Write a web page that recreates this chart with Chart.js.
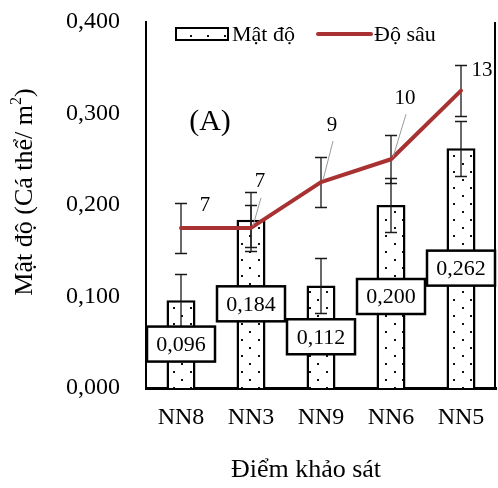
<!DOCTYPE html>
<html>
<head>
<meta charset="utf-8">
<script src="https://cdn.jsdelivr.net/npm/chart.js@4.4.1/dist/chart.umd.min.js"></script>
<style>
  html, body { margin: 0; padding: 0; background: #fff; }
  #wrap { width: 498px; height: 488px; }
</style>
</head>
<body>
<div id="wrap"><canvas id="chart" width="498" height="488"></canvas></div>
<script>
// values
const sites = ["NN8", "NN3", "NN9", "NN6", "NN5"];
const density = [0.096, 0.184, 0.112, 0.200, 0.262];
const densityErr = [0.029, 0.030, 0.030, 0.030, 0.030];
const depth = [7, 7, 9, 10, 13];
const depthErr = [1.1, 1.0, 1.1, 1.05, 1.1];
const densityTickStep = 0.1;

// where the depth numbers sit relative to their point (px), and whether a leader line is drawn
const depthLabelOffsets = [[24, -22, false], [9, -46, true], [11, -57, true], [14, -61, true], [21, -20, false]];

const serif = "'Liberation Serif', 'Times New Roman', serif";
const RED = '#a83232';

const fmt = v => v.toFixed(3).replace('.', ',');

const canvas = document.getElementById('chart');
const ctx0 = canvas.getContext('2d');

// white fill with scattered black dots, like the excel pattern
function dotPattern() {
    const c = document.createElement('canvas');
    c.width = 17; c.height = 16;
    const g = c.getContext('2d');
    g.fillStyle = '#fff';
    g.fillRect(0, 0, 17, 16);
    g.fillStyle = '#111';
    g.fillRect(3, 3, 2, 2);
    g.fillRect(11, 11, 2, 2);
    return ctx0.createPattern(c, 'repeat');
}
const dots = dotPattern();

const errorBars = {
    id: 'errorBars',
    afterDatasetDraw(chart, args) {
        if (args.index !== 0) return;
        const {ctx, scales: {x, y, y2}} = chart;
        ctx.save();
        ctx.strokeStyle = '#1a1a1a';
        ctx.lineWidth = 1.3;
        const cap = 6;
        function draw(px, v, e, scale) {
            const t = Math.round(scale.getPixelForValue(v + e)) + 0.5;
            const b = Math.round(scale.getPixelForValue(v - e)) + 0.5;
            ctx.beginPath();
            ctx.moveTo(px, t); ctx.lineTo(px, b);
            ctx.moveTo(px - cap, t); ctx.lineTo(px + cap, t);
            ctx.moveTo(px - cap, b); ctx.lineTo(px + cap, b);
            ctx.stroke();
        }
        sites.forEach((s, i) => {
            const px = x.getPixelForValue(i);
            draw(px, density[i], densityErr[i], y);
            draw(px, depth[i], depthErr[i], y2);
        });
        ctx.restore();
    }
};

const labels = {
    id: 'labels',
    afterDatasetsDraw(chart) {
        const {ctx, chartArea, scales: {x, y, y2}} = chart;
        ctx.save();
        // boxed density values in the middle of each bar
        ctx.font = `22px ${serif}`;
        ctx.textAlign = 'center';
        ctx.textBaseline = 'middle';
        density.forEach((v, i) => {
            const cx = x.getPixelForValue(i);
            const cy = y.getPixelForValue(v / 2);
            const w = 68, h = 35;
            ctx.fillStyle = '#fff';
            ctx.fillRect(cx - w / 2, cy - h / 2, w, h);
            ctx.lineWidth = 2.5;
            ctx.strokeStyle = '#000';
            ctx.strokeRect(cx - w / 2, cy - h / 2, w, h);
            ctx.fillStyle = '#000';
            ctx.fillText(fmt(v), cx, cy + 1);
        });

        // depth numbers with thin leaders
        ctx.font = `21px ${serif}`;
        depth.forEach((d, i) => {
            const px = x.getPixelForValue(i);
            const py = y2.getPixelForValue(d);
            const [dx, dy, leader] = depthLabelOffsets[i];
            if (leader) {
                ctx.strokeStyle = '#9a9a9a';
                ctx.lineWidth = 1;
                ctx.beginPath();
                ctx.moveTo(px + dx + 1, py + dy + 16);
                ctx.lineTo(px + 2, py - 2);
                ctx.stroke();
            }
            ctx.fillStyle = '#000';
            ctx.fillText(String(d), px + dx, py + dy);
        });

        // right frame line
        ctx.strokeStyle = '#000';
        ctx.lineWidth = 2;
        ctx.beginPath();
        ctx.moveTo(chartArea.right - 1, chartArea.top);
        ctx.lineTo(chartArea.right - 1, chartArea.bottom);
        ctx.stroke();

        // panel tag
        ctx.font = `30px ${serif}`;
        ctx.fillText('(A)', 210, 122);

        // legend
        ctx.fillStyle = dots;
        ctx.fillRect(176, 28, 52, 12);
        ctx.lineWidth = 2;
        ctx.strokeRect(176, 28, 52, 12);
        ctx.fillStyle = '#000';
        ctx.font = `22px ${serif}`;
        ctx.textAlign = 'left';
        ctx.fillText('Mật độ', 232, 35);
        ctx.strokeStyle = RED;
        ctx.lineWidth = 4;
        ctx.lineCap = 'round';
        ctx.beginPath();
        ctx.moveTo(318, 34);
        ctx.lineTo(371, 34);
        ctx.stroke();
        ctx.fillText('Độ sâu', 374, 35);

        // axis titles
        ctx.textAlign = 'center';
        ctx.font = `26px ${serif}`;
        ctx.fillText('Điểm khảo sát', 306, 470);

        ctx.translate(25, 192);
        ctx.rotate(-Math.PI / 2);
        const main = 'Mật độ (Cá thể/ m';
        ctx.font = `26px ${serif}`;
        const w1 = ctx.measureText(main).width;
        const w3 = ctx.measureText(')').width;
        ctx.font = `16px ${serif}`;
        const w2 = ctx.measureText('2').width;
        let sx = -(w1 + w2 + w3) / 2;
        ctx.textAlign = 'left';
        ctx.font = `26px ${serif}`;
        ctx.fillText(main, sx, 0);
        ctx.font = `16px ${serif}`;
        ctx.fillText('2', sx + w1, -8);
        ctx.font = `26px ${serif}`;
        ctx.fillText(')', sx + w1 + w2, 0);
        ctx.restore();
    }
};

new Chart(ctx0, {
    data: {
        labels: sites,
        datasets: [
            {
                type: 'bar',
                label: 'Mật độ',
                data: density,
                backgroundColor: dots,
                borderColor: '#000',
                borderWidth: 2.5,
                borderSkipped: 'bottom',
                barPercentage: 0.414,
                categoryPercentage: 1,
                yAxisID: 'y',
                order: 2
            },
            {
                type: 'line',
                label: 'Độ sâu',
                data: depth,
                borderColor: RED,
                backgroundColor: RED,
                borderWidth: 4,
                borderCapStyle: 'round',
                borderJoinStyle: 'round',
                pointRadius: 0,
                tension: 0,
                yAxisID: 'y2',
                order: 1
            }
        ]
    },
    options: {
        responsive: false,
        animation: false,
        devicePixelRatio: 1,
        layout: { padding: { top: 22, right: 2, left: 0, bottom: 0 } },
        plugins: {
            legend: { display: false },
            tooltip: { enabled: false }
        },
        scales: {
            x: {
                grid: { display: false, drawTicks: false },
                border: { color: '#000', width: 3 },
                ticks: { color: '#000', font: { family: serif, size: 24 }, padding: 15 },
                afterFit(s) {
                    s.height = 100;
                    s.paddingLeft = 0;
                    s.paddingRight = 0;
                }
            },
            y: {
                min: 0,
                max: 0.4,
                grid: { display: false, drawTicks: false },
                border: { color: '#000', width: 2 },
                ticks: {
                    stepSize: densityTickStep,
                    color: '#000',
                    font: { family: serif, size: 24 },
                    padding: 26,
                    callback: v => fmt(v)
                },
                afterFit(s) {
                    s.width = 146;
                    s.paddingTop = 0;
                    s.paddingBottom = 0;
                }
            },
            y2: {
                display: false,
                min: 0,
                max: 16
            }
        }
    },
    plugins: [errorBars, labels]
});
</script>
</body>
</html>
